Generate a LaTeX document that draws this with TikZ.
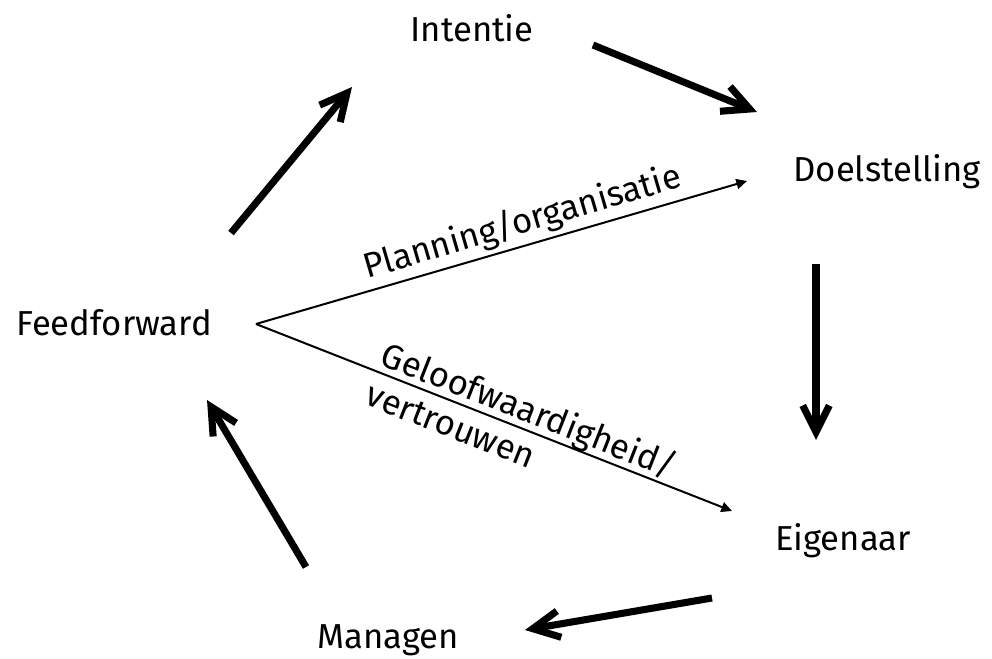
\documentclass[tikz,border=0pt]{standalone}
\usepackage{fontspec}
\setmainfont{Fira Sans}
\usetikzlibrary{arrows.meta}
\begin{document}
\begin{tikzpicture}[x=0.75pt,y=-0.75pt,
  lbl/.style={font=\fontsize{26}{32}\selectfont, inner sep=0pt},
  word/.style={lbl, anchor=base},
  bigarrow/.style={line width=5.3pt, line cap=butt, -{Straight Barb[length=20pt,width=20pt]}},
  thinarrow/.style={line width=1.5pt, -{Triangle[length=8pt,width=7.5pt]}}]
\useasboundingbox (0,0) rectangle (992,659);
% words
\node[word] (int) at (472,42) {Intentie};
\node[word] (doel) at (887,182) {Doelstelling};
\node[word] (ff) at (114,335) {Feedforward};
\node[word] (eig) at (843,550) {Eigenaar};
\node[word] (man) at (388,648) {Managen};
% cycle arrows
\coordinate (a1s) at (231,233); \coordinate (a1e) at (352,87);
\coordinate (a2s) at (593,45);  \coordinate (a2e) at (757,112);
\coordinate (a3s) at (816,264); \coordinate (a3e) at (816,440);
\coordinate (a4s) at (712,598); \coordinate (a4e) at (525,630);
\coordinate (a5s) at (306,567); \coordinate (a5e) at (207,400);
\draw[bigarrow] (a1s) -- (a1e);
\draw[bigarrow] (a2s) -- (a2e);
\draw[bigarrow] (a3s) -- (a3e);
\draw[bigarrow] (a4s) -- (a4e);
\draw[bigarrow] (a5s) -- (a5e);
% thin arrows
\coordinate (ffout) at (256,324);
\coordinate (p1) at (747,181);
\coordinate (g1) at (732,511);
\draw[thinarrow] (ffout) -- (p1) node[pos=0.556, sloped, above=3pt, lbl] (plan) {Planning/organisatie};
\draw[thinarrow] (ffout) -- (g1) node[pos=0.559, sloped, lbl, align=left] (geloof) {Geloofwaardigheid/\\vertrouwen};
\end{tikzpicture}
\end{document}
